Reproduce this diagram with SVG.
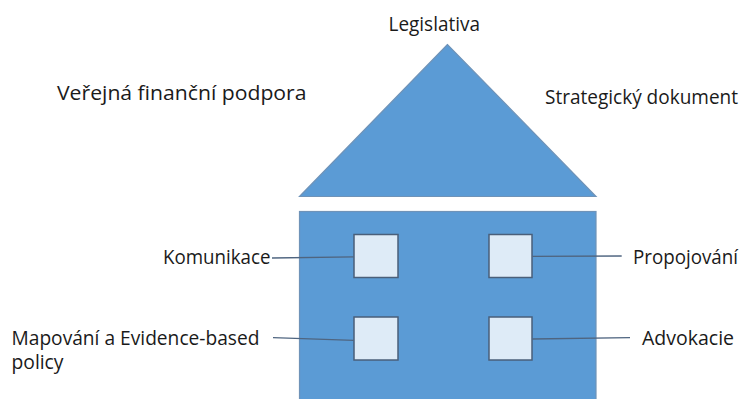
<svg xmlns="http://www.w3.org/2000/svg" width="742" height="399" viewBox="0 0 742 399">
<style>
text{font-family:"Open Sans","Liberation Sans",sans-serif;font-size:20px;fill:#1a1a1a}
.house{fill:#5b9bd5;stroke:#6f93b8;stroke-width:1.2}
.win{fill:#deebf7;stroke:#4a5f7a;stroke-width:1.5}
.conn{stroke:#4f6580;stroke-width:1.3;fill:none}
</style>
<rect width="742" height="399" fill="#ffffff"/>
<g id="roof"><polygon class="house" points="447.5,44.5 299.5,196.5 596,196.5"/></g>
<g id="body"><rect class="house" x="299.5" y="211.5" width="296.5" height="200"/></g>
<g id="win1"><rect class="win" x="354" y="234.5" width="44" height="43"/></g>
<g id="win2"><rect class="win" x="489" y="234.5" width="43" height="43"/></g>
<g id="win3"><rect class="win" x="354" y="317" width="44" height="43"/></g>
<g id="win4"><rect class="win" x="489" y="317" width="43" height="43"/></g>
<g id="connectors">
<line class="conn" x1="272" y1="258" x2="354" y2="256.8"/>
<line class="conn" x1="273" y1="337.7" x2="354" y2="340.3"/>
<line class="conn" x1="532" y1="256.3" x2="621.7" y2="256"/>
<line class="conn" x1="532" y1="339" x2="630" y2="337.7"/>
</g>
<g id="legislativa"><text x="388.5" y="31" textLength="91.5" lengthAdjust="spacingAndGlyphs">Legislativa</text></g>
<g id="verejna"><text x="57" y="99.5" textLength="249.5" lengthAdjust="spacingAndGlyphs">Veřejná finanční podpora</text></g>
<g id="strategicky"><text x="545" y="103.5" textLength="193" lengthAdjust="spacingAndGlyphs">Strategický dokument</text></g>
<g id="komunikace"><text x="163" y="263.5" textLength="107.5" lengthAdjust="spacingAndGlyphs">Komunikace</text></g>
<g id="propojovani"><text x="633" y="263.5" textLength="105" lengthAdjust="spacingAndGlyphs">Propojování</text></g>
<g id="mapovani"><text x="11.5" y="345" textLength="248" lengthAdjust="spacingAndGlyphs">Mapování a Evidence-based</text><text x="11.5" y="369" textLength="52" lengthAdjust="spacingAndGlyphs">policy</text></g>
<g id="advokacie"><text x="642" y="345" textLength="92" lengthAdjust="spacingAndGlyphs">Advokacie</text></g>
</svg>
